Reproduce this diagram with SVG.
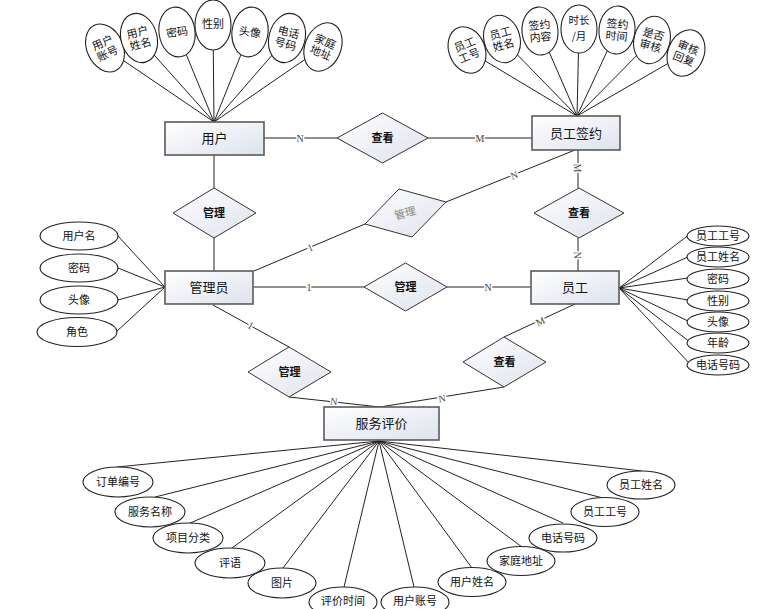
<svg xmlns="http://www.w3.org/2000/svg" width="777" height="609" viewBox="0 0 777 609">
<defs>
<linearGradient id="g" x1="0" y1="0" x2="1" y2="1">
<stop offset="0" stop-color="#ffffff"/>
<stop offset="1" stop-color="#dde2ec"/>
</linearGradient>
<style>
.ent{fill:url(#g);stroke:#5a5a5a;stroke-width:1.6}
.rel{fill:url(#g);stroke:#333;stroke-width:1}
.att{fill:#fff;stroke:#222;stroke-width:1.1}
.ln{stroke:#222;stroke-width:1;fill:none}
text{font-family:"Noto Sans CJK SC","Noto Sans",sans-serif;text-anchor:middle;fill:#111}
.et{font-size:13px}
.rt{font-size:11px;font-weight:bold}
.at{font-size:11px}
.ft{font-size:11px}
.cl{font-family:"Liberation Serif",serif;font-size:10px;fill:#444;stroke:#fff;stroke-width:3;paint-order:stroke}
</style>
</defs>
<rect width="777" height="609" fill="#fff"/>

<g id="connectors">
<path class="ln" d="M214,122L105,48M214,122L139,38M214,122L177,32M214,122L213,25M214,122L250,32M214,122L287,38M214,122L323,47"/>
<path class="ln" d="M577,116L467,50M577,116L502,39M577,116L540,31M577,116L579,29M577,116L617,30M577,116L652,40M577,116L686,53"/>
<path class="ln" d="M165,287L118,236M165,287L118,268M165,287L118,300M165,287L116,332"/>
<path class="ln" d="M619,288L690,234M619,288L690,256M619,288L688,278M619,288L688,300M619,288L688,321M619,288L690,342M619,288L690,364"/>
<path class="ln" d="M379,441L117,467M379,441L155,497M379,441L188,524M379,441L232,548M379,441L283,568M379,441L344,587M379,441L414,587M379,441L472,568M379,441L522,547M379,441L563,523M379,441L603,498M379,441L642,471"/>
<path class="ln" d="M264,138H337M428,138H532"/>
<path class="ln" d="M214,155V188M214,238V271"/>
<path class="ln" d="M254,271L365,224M446,202L575,150"/>
<path class="ln" d="M578,150V188M578,238V271"/>
<path class="ln" d="M253,287H364M447,287H531"/>
<path class="ln" d="M213,305L289,347M289,397L380,407"/>
<path class="ln" d="M575,304L504,337M504,387L380,407"/>
<text class="cl" x="300" y="142">N</text>
<text class="cl" x="480" y="142">M</text>
<text class="cl" x="310" y="251" transform="rotate(-23 310 247)">1</text>
<text class="cl" x="514" y="179" transform="rotate(-22 514 175)">N</text>
<text class="cl" x="578" y="172" transform="rotate(90 578 168)">M</text>
<text class="cl" x="578" y="259" transform="rotate(90 578 255)">N</text>
<text class="cl" x="309" y="291">1</text>
<text class="cl" x="488" y="291">N</text>
<text class="cl" x="251" y="329" transform="rotate(29 251 325)">1</text>
<text class="cl" x="540" y="325" transform="rotate(-25 540 321)">M</text>
<text class="cl" x="334" y="405" transform="rotate(6 334 401)">N</text>
<text class="cl" x="442" y="402" transform="rotate(-9 442 398)">N</text>
</g>

<g id="yonghu"><rect class="ent" x="165" y="122" width="99" height="33"/><text class="et" x="214.5" y="143">用户</text></g>
<g id="yuangongqianyue"><rect class="ent" x="532" y="116" width="88" height="34"/><text class="et" x="576" y="138">员工签约</text></g>
<g id="guanliyuan"><rect class="ent" x="165" y="271" width="88" height="33"/><text class="et" x="209" y="292">管理员</text></g>
<g id="yuangong"><rect class="ent" x="531" y="271" width="88" height="33"/><text class="et" x="575" y="292">员工</text></g>
<g id="fuwupingjia"><rect class="ent" x="324" y="407" width="115" height="33"/><text class="et" x="381.5" y="428">服务评价</text></g>

<g id="rel-chakan1"><polygon class="rel" points="337,138 382.5,113 428,138 382.5,163"/><text class="rt" x="382.5" y="142">查看</text></g>
<g id="rel-guanli1"><polygon class="rel" points="173,213 214,188 256,213 214,238"/><text class="rt" x="214" y="217">管理</text></g>
<g id="rel-guanli2"><polygon class="rel" points="365,224 399,189 446,202 412,237"/><text class="rt" x="405" y="217" style="fill:#888;font-weight:normal" transform="rotate(-15 405 213)">管理</text></g>
<g id="rel-chakan2"><polygon class="rel" points="534,213 579,188 624,213 579,238"/><text class="rt" x="579" y="217">查看</text></g>
<g id="rel-guanli3"><polygon class="rel" points="364,287 405.5,263 447,287 405.5,311"/><text class="rt" x="405.5" y="291">管理</text></g>
<g id="rel-guanli4"><polygon class="rel" points="248,372 289,347 331,372 289,397"/><text class="rt" x="289.5" y="376">管理</text></g>
<g id="rel-chakan3"><polygon class="rel" points="463,362 504,337 546,362 504,387"/><text class="rt" x="504.5" y="366">查看</text></g>

<g id="a-u1" transform="rotate(-25 105 48)"><ellipse class="att" cx="105" cy="48" rx="18" ry="25"/><text class="ft" x="105" y="46">用户<tspan x="105" dy="12">账号</tspan></text></g>
<g id="a-u2" transform="rotate(-15 139 38)"><ellipse class="att" cx="139" cy="38" rx="18" ry="25"/><text class="ft" x="139" y="36">用户<tspan x="139" dy="12">姓名</tspan></text></g>
<g id="a-u3" transform="rotate(-8 177 32)"><ellipse class="att" cx="177" cy="32" rx="18" ry="25"/><text class="ft" x="177" y="36">密码</text></g>
<g id="a-u4"><ellipse class="att" cx="213" cy="25" rx="18" ry="25"/><text class="ft" x="213" y="28">性别</text></g>
<g id="a-u5" transform="rotate(8 250 32)"><ellipse class="att" cx="250" cy="32" rx="18" ry="25"/><text class="ft" x="250" y="36">头像</text></g>
<g id="a-u6" transform="rotate(15 287 38)"><ellipse class="att" cx="287" cy="38" rx="18" ry="25"/><text class="ft" x="287" y="36">电话<tspan x="287" dy="12">号码</tspan></text></g>
<g id="a-u7" transform="rotate(22 323 47)"><ellipse class="att" cx="323" cy="47" rx="18" ry="25"/><text class="ft" x="323" y="45">家庭<tspan x="323" dy="12">地址</tspan></text></g>

<g id="a-q1" transform="rotate(-22 467 50)"><ellipse class="att" cx="467" cy="50" rx="18" ry="24"/><text class="ft" x="467" y="48">员工<tspan x="467" dy="12">工号</tspan></text></g>
<g id="a-q2" transform="rotate(-15 502 39)"><ellipse class="att" cx="502" cy="39" rx="18" ry="24"/><text class="ft" x="502" y="37">员工<tspan x="502" dy="12">姓名</tspan></text></g>
<g id="a-q3" transform="rotate(-5 540 31)"><ellipse class="att" cx="540" cy="31" rx="18" ry="24"/><text class="ft" x="540" y="29">签约<tspan x="540" dy="12">内容</tspan></text></g>
<g id="a-q4"><ellipse class="att" cx="579" cy="29" rx="18" ry="24"/><text x="579" y="24" style="font-size:10.5px">时长</text><text x="579" y="40" style="font-size:10.5px">/月</text></g>
<g id="a-q5" transform="rotate(5 617 30)"><ellipse class="att" cx="617" cy="30" rx="18" ry="24"/><text class="ft" x="617" y="28">签约<tspan x="617" dy="12">时间</tspan></text></g>
<g id="a-q6" transform="rotate(15 652 40)"><ellipse class="att" cx="652" cy="40" rx="18" ry="24"/><text class="ft" x="652" y="38">是否<tspan x="652" dy="12">审核</tspan></text></g>
<g id="a-q7" transform="rotate(22 686 53)"><ellipse class="att" cx="686" cy="53" rx="18" ry="24"/><text class="ft" x="686" y="51">审核<tspan x="686" dy="12">回复</tspan></text></g>

<g id="a-g1"><ellipse class="att" cx="79" cy="236" rx="39" ry="14"/><text class="at" x="79" y="240">用户名</text></g>
<g id="a-g2"><ellipse class="att" cx="79" cy="268" rx="39" ry="14"/><text class="at" x="79" y="272">密码</text></g>
<g id="a-g3"><ellipse class="att" cx="79" cy="300" rx="39" ry="14"/><text class="at" x="79" y="304">头像</text></g>
<g id="a-g4"><ellipse class="att" cx="77" cy="332" rx="40" ry="14.5"/><text class="at" x="77" y="336">角色</text></g>

<g id="a-y1"><ellipse class="att" cx="718" cy="236" rx="31" ry="10"/><text class="at" x="718" y="240">员工工号</text></g>
<g id="a-y2"><ellipse class="att" cx="718" cy="257" rx="31" ry="10"/><text class="at" x="718" y="261">员工姓名</text></g>
<g id="a-y3"><ellipse class="att" cx="718" cy="279" rx="31" ry="10"/><text class="at" x="718" y="283">密码</text></g>
<g id="a-y4"><ellipse class="att" cx="718" cy="301" rx="31" ry="10"/><text class="at" x="718" y="305">性别</text></g>
<g id="a-y5"><ellipse class="att" cx="718" cy="322" rx="31" ry="10"/><text class="at" x="718" y="326">头像</text></g>
<g id="a-y6"><ellipse class="att" cx="718" cy="343" rx="31" ry="10"/><text class="at" x="718" y="347">年龄</text></g>
<g id="a-y7"><ellipse class="att" cx="718" cy="365" rx="31" ry="10"/><text class="at" x="718" y="369">电话号码</text></g>

<g id="a-f1"><ellipse class="att" cx="118" cy="482" rx="35" ry="15"/><text class="at" x="118" y="486">订单编号</text></g>
<g id="a-f2"><ellipse class="att" cx="150" cy="512" rx="35" ry="15"/><text class="at" x="150" y="516">服务名称</text></g>
<g id="a-f3"><ellipse class="att" cx="188" cy="538" rx="35" ry="15"/><text class="at" x="188" y="542">项目分类</text></g>
<g id="a-f4"><ellipse class="att" cx="230" cy="563" rx="35" ry="15"/><text class="at" x="230" y="567">评语</text></g>
<g id="a-f5"><ellipse class="att" cx="282" cy="583" rx="34" ry="15"/><text class="at" x="282" y="587">图片</text></g>
<g id="a-f6"><ellipse class="att" cx="343" cy="602" rx="34" ry="15"/><text class="at" x="343" y="605">评价时间</text></g>
<g id="a-f7"><ellipse class="att" cx="415" cy="602" rx="34" ry="15"/><text class="at" x="415" y="605">用户账号</text></g>
<g id="a-f8"><ellipse class="att" cx="472" cy="582" rx="34" ry="14.5"/><text class="at" x="472" y="586">用户姓名</text></g>
<g id="a-f9"><ellipse class="att" cx="521" cy="561" rx="34" ry="14.5"/><text class="at" x="521" y="565">家庭地址</text></g>
<g id="a-f10"><ellipse class="att" cx="563" cy="538" rx="34" ry="14"/><text class="at" x="563" y="542">电话号码</text></g>
<g id="a-f11"><ellipse class="att" cx="605" cy="512" rx="34" ry="14.5"/><text class="at" x="605" y="516">员工工号</text></g>
<g id="a-f12"><ellipse class="att" cx="641" cy="485" rx="34" ry="14"/><text class="at" x="641" y="489">员工姓名</text></g>
</svg>
